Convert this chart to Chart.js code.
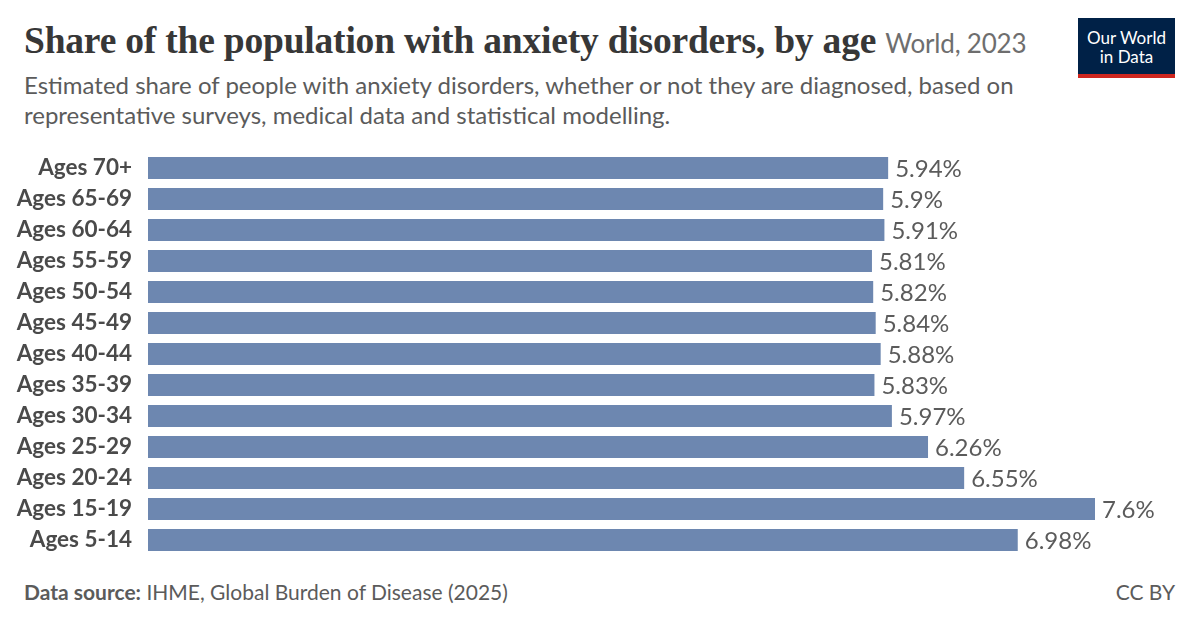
<!DOCTYPE html>
<html><head><meta charset="utf-8">
<script src="https://cdn.jsdelivr.net/npm/chart.js@4"></script>
<style>
body{margin:0;width:1200px;height:627px;background:#fff;font-family:Lato,sans-serif;position:relative;overflow:hidden}
#t{position:absolute;left:24px;top:19px;font-family:"Liberation Serif",serif;font-weight:bold;font-size:37.5px;color:#373737;letter-spacing:-0.2px}
#t span{font-family:Lato;font-weight:normal;font-size:26px;color:#6e6e6e}
#s{position:absolute;left:24px;top:70px;font-size:24px;line-height:30px;color:#5b5b5b;width:1040px}
#logo{position:absolute;left:1078px;top:18px;width:97px;height:60px;background:#002147;border-bottom:4px solid #ce261e;box-sizing:border-box;color:#fff;font-size:17px;line-height:19px;text-align:center;padding-top:10px}
#f{position:absolute;left:24px;top:579px;font-size:21px;color:#5b5b5b}
#cc{position:absolute;right:25px;top:579px;font-size:21px;color:#5b5b5b}
#cv{position:absolute;left:0;top:131px}
</style></head><body>
<div id="t">Share of the population with anxiety disorders, by age <span>World, 2023</span></div>
<div id="s">Estimated share of people with anxiety disorders, whether or not they are diagnosed, based on representative surveys, medical data and statistical modelling.</div>
<div id="logo">Our World<br>in Data</div>
<div id="f"><b>Data source:</b> IHME, Global Burden of Disease (2025)</div>
<div id="cc">CC BY</div>
<canvas id="cv" width="1200" height="446" style="width:1200px;height:446px"></canvas>
<script>
const categories=["Ages 70+","Ages 65-69","Ages 60-64","Ages 55-59","Ages 50-54","Ages 45-49","Ages 40-44","Ages 35-39","Ages 30-34","Ages 25-29","Ages 20-24","Ages 15-19","Ages 5-14"];
const values=[5.94,5.9,5.91,5.81,5.82,5.84,5.88,5.83,5.97,6.26,6.55,7.6,6.98];
const valueLabels=["5.94%","5.9%","5.91%","5.81%","5.82%","5.84%","5.88%","5.83%","5.97%","6.26%","6.55%","7.6%","6.98%"];
const labelPlugin={id:'lbl',afterDatasetsDraw(ch){const c=ch.ctx;const m=ch.getDatasetMeta(0);c.save();c.font='24px Lato';c.fillStyle='#5b5b5b';c.textBaseline='middle';m.data.forEach((b,i)=>c.fillText(valueLabels[i],b.x+7,b.y+1));c.restore();}};
new Chart(document.getElementById('cv'),{type:'bar',data:{labels:categories,datasets:[{data:values,backgroundColor:'#6d87b0',barPercentage:0.71,categoryPercentage:1}]},
options:{indexAxis:'y',responsive:false,animation:false,devicePixelRatio:1,layout:{padding:{top:1.5,bottom:0,right:105,left:0}},
plugins:{legend:{display:false},tooltip:{enabled:false}},
scales:{x:{min:0,max:7.6,display:false},y:{grid:{display:false},border:{display:false},afterFit(s){s.width=148;},ticks:{padding:8,color:'#4a4a4a',font:{family:'Lato',size:22.5,weight:'bold'}}}}},plugins:[labelPlugin]});
</script></body></html>
